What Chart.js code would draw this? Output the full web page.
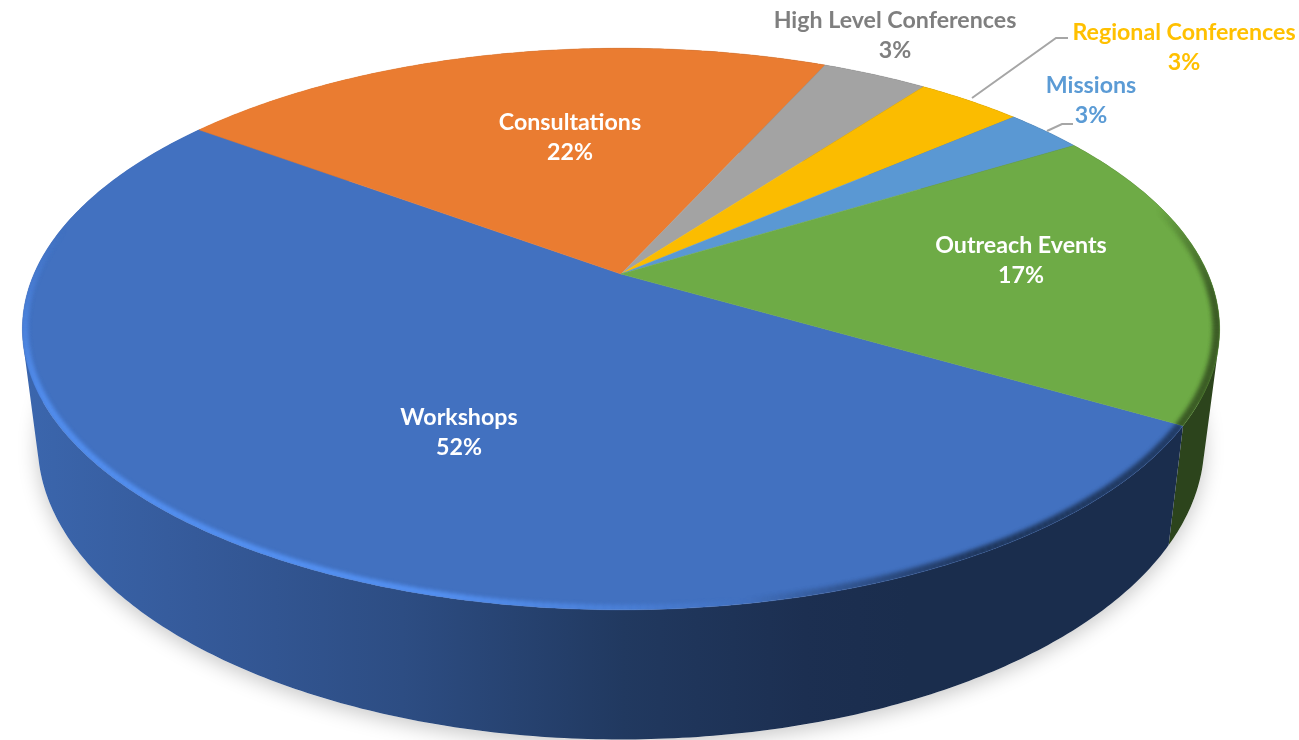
<!DOCTYPE html>
<html>
<head>
<meta charset="utf-8">
<title>Activities</title>
<script src="https://cdn.jsdelivr.net/npm/chart.js@4"></script>
<style>
    html, body { margin: 0; padding: 0; background: #fff; overflow: hidden; }
    canvas { display: block; }
</style>
</head>
<body>
<canvas id="chart_activities" width="1299" height="740"></canvas>
<script>
const categories = ['Workshops', 'Consultations', 'High Level Conferences', 'Regional Conferences', 'Missions', 'Outreach Events'];
const activity_counts = [60, 25, 4, 4, 3, 20];
const slice_colors = ['#4271C0', '#EA7C31', '#A3A3A3', '#FBBC00', '#5A98D3', '#6EAB46'];
const label_colors = ['#FFFFFF', '#FFFFFF', '#7F7F7F', '#FFC000', '#5B9BD5', '#FFFFFF'];
const label_centers = [[459, 417], [570, 122], [895, 20], [1184, 32], [1091, 85], [1021, 245]];
const leader_lines = [
    { color: '#A6A6A6', points: [[972, 98], [1056, 38], [1068, 38]] },
    { color: '#A6A6A6', points: [[1047, 131], [1062, 124], [1073, 124]] }
];

// the pie lies on a tilted plane, so the circle goes through a perspective map
const top_disc = { x: 621, y: 274, rx: 587, ry: 270 };
const bottom_disc = { x: 621, y: 385, rx: 572, ry: 285 };
const perspective = -0.196;

// brightness of the side wall from left to right
const wall_stops = [[0.02, 0.9], [0.15, 0.8], [0.31, 0.68], [0.48, 0.5], [0.62, 0.42], [0.7, 0.4], [1, 0.4]];

function disc_point(disc, theta, r) {
    const px = Math.cos(theta) * r;
    const py = Math.sin(theta) * r;
    const w = 1 + perspective * py;
    return [disc.x + disc.rx * px / w, disc.y + disc.ry * py / w];
}

function arc_points(disc, start, end, r) {
    const steps = Math.max(2, Math.ceil(Math.abs(end - start) * 90));
    const points = [];
    for (let i = 0; i <= steps; i++) {
        points.push(disc_point(disc, start + (end - start) * i / steps, r));
    }
    return points;
}

function trace(ctx, points) {
    points.forEach((p, i) => i === 0 ? ctx.moveTo(p[0], p[1]) : ctx.lineTo(p[0], p[1]));
}

function rgb(hex) {
    return [1, 3, 5].map(i => parseInt(hex.slice(i, i + 2), 16));
}

function shade(color, k, alpha) {
    const c = rgb(color).map(v => Math.min(255, Math.round(v * k)));
    return 'rgba(' + c[0] + ',' + c[1] + ',' + c[2] + ',' + alpha + ')';
}

function draw_shadow(ctx) {
    ctx.save();
    ctx.shadowColor = 'rgba(0,0,0,0.22)';
    ctx.shadowBlur = 20;
    ctx.shadowOffsetX = 0;
    ctx.shadowOffsetY = 5;
    ctx.fillStyle = '#fff';
    ctx.beginPath();
    trace(ctx, arc_points(bottom_disc, 0, Math.PI * 2, 1));
    ctx.closePath();
    ctx.fill();
    ctx.restore();
}

function draw_wall(ctx, arc, color) {
    const gradient = ctx.createLinearGradient(0, 0, 1299, 0);
    wall_stops.forEach(s => gradient.addColorStop(s[0], shade(color, s[1], 1)));
    ctx.fillStyle = gradient;
    const upper = arc_points(top_disc, arc.startAngle, arc.endAngle, 1);
    const lower = arc_points(bottom_disc, arc.startAngle, arc.endAngle, 1);
    // one quad per step, so the part past the top edge is filled too
    ctx.beginPath();
    for (let i = 0; i < upper.length - 1; i++) {
        const quad = [upper[i], upper[i + 1], lower[i + 1], lower[i]];
        const cross = (quad[1][0] - quad[0][0]) * (quad[2][1] - quad[0][1]) - (quad[1][1] - quad[0][1]) * (quad[2][0] - quad[0][0]);
        if (cross < 0) quad.reverse();
        trace(ctx, quad);
        ctx.closePath();
    }
    ctx.fill();
}

function slice_path(ctx, arc) {
    ctx.beginPath();
    ctx.moveTo(top_disc.x, top_disc.y);
    arc_points(top_disc, arc.startAngle, arc.endAngle, 1).forEach(p => ctx.lineTo(p[0], p[1]));
    ctx.closePath();
}

// rim of the top face: bright on the left and front, dark towards the right
function rim_style(theta) {
    let deg = theta * 180 / Math.PI;
    deg = ((deg + 90) % 360 + 360) % 360 - 90;
    if (deg > 190 || deg < -15) return null;
    if (deg > 80) {
        const fade = Math.min(1, (190 - deg) / 35, (deg - 80) / 25);
        return { k: 1.35, alpha: fade * 0.9, width: 6 };
    }
    const fade = Math.min(1, (deg + 15) / 20, (80 - deg) / 20);
    return { k: 0.4, alpha: fade * 0.9, width: 8 };
}

function draw_rim(ctx, arc, color) {
    ctx.save();
    slice_path(ctx, arc);
    ctx.clip();
    ctx.filter = 'blur(2px)';
    ctx.lineCap = 'butt';
    const step = 0.012;
    for (let t = arc.startAngle; t < arc.endAngle; t += step) {
        const style = rim_style(t + step / 2);
        if (!style) continue;
        ctx.lineWidth = style.width;
        ctx.strokeStyle = shade(color, style.k, style.alpha);
        ctx.beginPath();
        trace(ctx, arc_points(top_disc, t, t + step * 1.2, 0.996));
        ctx.stroke();
    }
    ctx.restore();
}

const pie_3d_plugin = {
    id: 'pie_3d',
    beforeDatasetDraw(chart, args) {
        const ctx = chart.ctx;
        const arcs = args.meta.data.map(el => el.getProps(['startAngle', 'endAngle'], true));
        draw_shadow(ctx);
        // walls of the back slices first, workshops last so it sits in front
        for (let i = arcs.length - 1; i >= 0; i--) {
            draw_wall(ctx, arcs[i], slice_colors[i]);
        }
        arcs.forEach((arc, i) => {
            slice_path(ctx, arc);
            ctx.fillStyle = slice_colors[i];
            ctx.fill();
            ctx.strokeStyle = slice_colors[i];
            ctx.lineWidth = 0.5;
            ctx.stroke();
        });
        arcs.forEach((arc, i) => draw_rim(ctx, arc, slice_colors[i]));
        return false;
    },
    afterDraw(chart) {
        const ctx = chart.ctx;
        const total = activity_counts.reduce((a, b) => a + b, 0);
        ctx.save();
        ctx.lineWidth = 2;
        leader_lines.forEach(line => {
            ctx.strokeStyle = line.color;
            ctx.beginPath();
            trace(ctx, line.points);
            ctx.stroke();
        });
        ctx.font = 'bold 23.2px Lato, "Open Sans", sans-serif';
        ctx.textAlign = 'center';
        ctx.textBaseline = 'middle';
        categories.forEach((name, i) => {
            const percent = Math.round(activity_counts[i] / total * 100) + '%';
            ctx.fillStyle = label_colors[i];
            ctx.fillText(name, label_centers[i][0], label_centers[i][1] + 1);
            ctx.fillText(percent, label_centers[i][0], label_centers[i][1] + 31);
        });
        ctx.restore();
    }
};

new Chart(document.getElementById('chart_activities'), {
    type: 'pie',
    data: {
        labels: categories,
        datasets: [{
            data: activity_counts,
            backgroundColor: slice_colors,
            borderWidth: 0
        }]
    },
    options: {
        responsive: false,
        animation: false,
        // first slice starts at the lower right of the pie
        rotation: 120.4,
        plugins: {
            legend: { display: false },
            tooltip: { enabled: false }
        }
    },
    plugins: [pie_3d_plugin]
});
</script>
</body>
</html>
